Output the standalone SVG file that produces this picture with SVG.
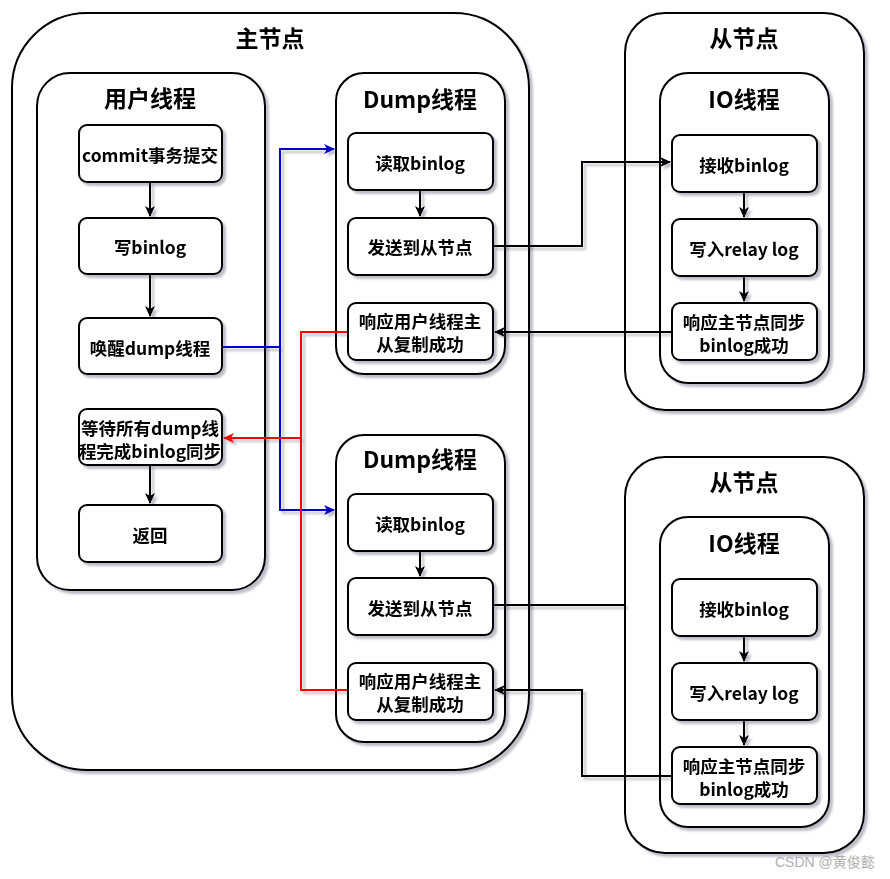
<svg xmlns="http://www.w3.org/2000/svg" width="890" height="879" viewBox="0 0 890 879">
<style>
.c{fill:#fff;stroke:#000;stroke-width:2}
.t{font-family:"Noto Sans CJK SC","Noto Sans",sans-serif;font-weight:bold;fill:#000;text-anchor:middle;dominant-baseline:central}
.h{font-size:23px}
.b{font-size:17.5px}
.e{fill:none;stroke-width:2}
.k{stroke:#000}
.bl{stroke:#0000CC}
.rd{stroke:#FF0000}
.wm{font-family:"Liberation Sans","Noto Sans CJK SC",sans-serif;font-size:14px;fill:#b0b0b0}
</style>
<defs>
<filter id="sh" x="-10%" y="-10%" width="130%" height="130%">
<feDropShadow dx="3" dy="3" stdDeviation="1.2" flood-color="#404060" flood-opacity="0.35"/>
</filter>
<marker id="ak" markerWidth="12" markerHeight="10" refX="10" refY="5" orient="auto" markerUnits="userSpaceOnUse"><path d="M0,0 L11,5 L0,10 L3,5 z" fill="#000"/></marker>
<marker id="ab" markerWidth="12" markerHeight="10" refX="10" refY="5" orient="auto" markerUnits="userSpaceOnUse"><path d="M0,0 L11,5 L0,10 L3,5 z" fill="#0000CC"/></marker>
<marker id="ar" markerWidth="12" markerHeight="10" refX="10" refY="5" orient="auto" markerUnits="userSpaceOnUse"><path d="M0,0 L11,5 L0,10 L3,5 z" fill="#FF0000"/></marker>
</defs>
<rect width="890" height="879" fill="#fff"/>

<g id="master" filter="url(#sh)">
<rect class="c" x="12" y="13" width="517" height="757" rx="75"/>
<text class="t h" x="270" y="37">主节点</text>
</g>
<g id="slave1" filter="url(#sh)">
<rect class="c" x="625" y="13" width="239" height="397" rx="40"/>
<text class="t h" x="744" y="37">从节点</text>
</g>
<g id="slave2" filter="url(#sh)">
<rect class="c" x="625" y="457" width="239" height="396" rx="40"/>
<text class="t h" x="744" y="481">从节点</text>
</g>

<g id="userThread" filter="url(#sh)">
<rect class="c" x="37" y="73" width="228" height="517" rx="33"/>
<text class="t h" x="150" y="97">用户线程</text>
</g>
<g id="dump1" filter="url(#sh)">
<rect class="c" x="336" y="73" width="169" height="301" rx="28"/>
<text class="t h" x="420" y="98">Dump线程</text>
</g>
<g id="dump2" filter="url(#sh)">
<rect class="c" x="336" y="435" width="169" height="307" rx="28"/>
<text class="t h" x="420" y="458">Dump线程</text>
</g>
<g id="io1" filter="url(#sh)">
<rect class="c" x="660" y="73" width="169" height="310" rx="28"/>
<text class="t h" x="744" y="98">IO线程</text>
</g>
<g id="io2" filter="url(#sh)">
<rect class="c" x="660" y="517" width="169" height="310" rx="28"/>
<text class="t h" x="744" y="542">IO线程</text>
</g>

<g id="connectors">
<g filter="url(#sh)">
<path class="e k" d="M150,182 V216" marker-end="url(#ak)"/>
<path class="e k" d="M150,274 V316" marker-end="url(#ak)"/>
<path class="e k" d="M150,465 V503" marker-end="url(#ak)"/>
<path class="e k" d="M420,190 V216" marker-end="url(#ak)"/>
<path class="e k" d="M420,551 V576" marker-end="url(#ak)"/>
<path class="e k" d="M744,192 V217" marker-end="url(#ak)"/>
<path class="e k" d="M744,276 V301" marker-end="url(#ak)"/>
<path class="e k" d="M744,636 V661" marker-end="url(#ak)"/>
<path class="e k" d="M744,720 V745" marker-end="url(#ak)"/>
<path class="e bl" d="M222,347 H280 V149 H334" marker-end="url(#ab)"/>
<path class="e bl" d="M280,347 V510 H334" marker-end="url(#ab)"/>
<path class="e rd" d="M348,332 H301 V438 H224" marker-end="url(#ar)"/>
<path class="e rd" d="M348,690 H301 V438"/>
<path class="e k" d="M493,246 H582 V162 H670" marker-end="url(#ak)"/>
<path class="e k" d="M672,332 H495" marker-end="url(#ak)"/>
<path class="e k" d="M493,605 H625"/>
<path class="e k" d="M672,776 H582 V690 H495" marker-end="url(#ak)"/>
</g>
</g>

<g id="commit" filter="url(#sh)">
<rect class="c" x="79" y="125" width="143" height="57" rx="8"/>
<text class="t b" x="150" y="154">commit事务提交</text>
</g>
<g id="writeBinlog" filter="url(#sh)">
<rect class="c" x="79" y="218" width="143" height="56" rx="8"/>
<text class="t b" x="150" y="246">写binlog</text>
</g>
<g id="wakeDump" filter="url(#sh)">
<rect class="c" x="79" y="318" width="143" height="56" rx="8"/>
<text class="t b" x="150" y="347">唤醒dump线程</text>
</g>
<g id="waitDump" filter="url(#sh)">
<rect class="c" x="79" y="409" width="143" height="56" rx="8"/>
<text class="t b" x="150" y="427">等待所有dump线</text>
<text class="t b" x="150" y="450">程完成binlog同步</text>
</g>
<g id="return" filter="url(#sh)">
<rect class="c" x="79" y="505" width="143" height="57" rx="8"/>
<text class="t b" x="150" y="534">返回</text>
</g>

<g id="read1" filter="url(#sh)">
<rect class="c" x="348" y="133" width="145" height="57" rx="8"/>
<text class="t b" x="420" y="162">读取binlog</text>
</g>
<g id="send1" filter="url(#sh)">
<rect class="c" x="348" y="218" width="145" height="57" rx="8"/>
<text class="t b" x="420" y="246">发送到从节点</text>
</g>
<g id="resp1" filter="url(#sh)">
<rect class="c" x="348" y="303" width="145" height="57" rx="8"/>
<text class="t b" x="420" y="320">响应用户线程主</text>
<text class="t b" x="420" y="343">从复制成功</text>
</g>
<g id="read2" filter="url(#sh)">
<rect class="c" x="348" y="494" width="145" height="57" rx="8"/>
<text class="t b" x="420" y="523">读取binlog</text>
</g>
<g id="send2" filter="url(#sh)">
<rect class="c" x="348" y="578" width="145" height="57" rx="8"/>
<text class="t b" x="420" y="607">发送到从节点</text>
</g>
<g id="resp2" filter="url(#sh)">
<rect class="c" x="348" y="663" width="145" height="57" rx="8"/>
<text class="t b" x="420" y="680">响应用户线程主</text>
<text class="t b" x="420" y="703">从复制成功</text>
</g>

<g id="recv1" filter="url(#sh)">
<rect class="c" x="672" y="135" width="145" height="57" rx="8"/>
<text class="t b" x="744" y="164">接收binlog</text>
</g>
<g id="relay1" filter="url(#sh)">
<rect class="c" x="672" y="219" width="145" height="57" rx="8"/>
<text class="t b" x="744" y="248">写入relay log</text>
</g>
<g id="ack1" filter="url(#sh)">
<rect class="c" x="672" y="303" width="145" height="57" rx="8"/>
<text class="t b" x="744" y="321">响应主节点同步</text>
<text class="t b" x="744" y="344">binlog成功</text>
</g>
<g id="recv2" filter="url(#sh)">
<rect class="c" x="672" y="579" width="145" height="57" rx="8"/>
<text class="t b" x="744" y="608">接收binlog</text>
</g>
<g id="relay2" filter="url(#sh)">
<rect class="c" x="672" y="663" width="145" height="57" rx="8"/>
<text class="t b" x="744" y="692">写入relay log</text>
</g>
<g id="ack2" filter="url(#sh)">
<rect class="c" x="672" y="747" width="145" height="57" rx="8"/>
<text class="t b" x="744" y="765">响应主节点同步</text>
<text class="t b" x="744" y="788">binlog成功</text>
</g>

<text class="wm" x="775" y="867">CSDN @黄俊懿</text>
</svg>
